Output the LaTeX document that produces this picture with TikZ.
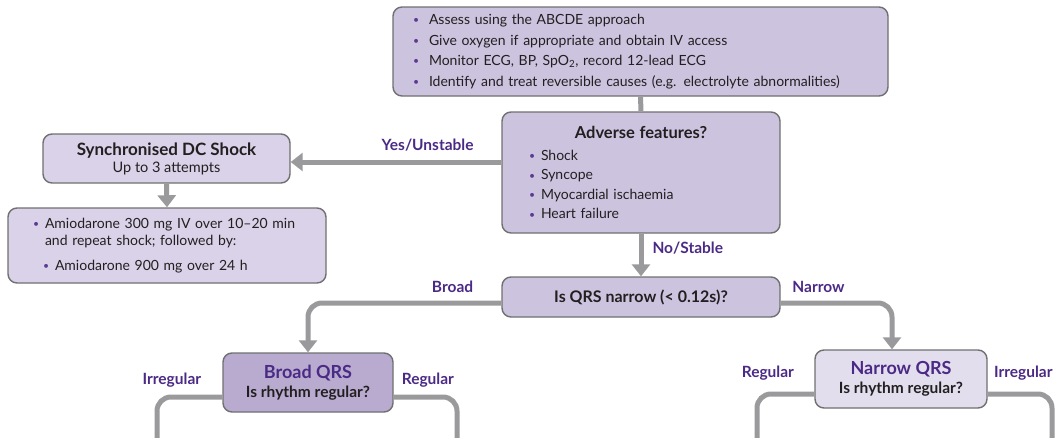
\documentclass[tikz,border=0pt]{standalone}
\usepackage{fontspec}
\setmainfont{Lato}
\usepackage{xcolor}
\usetikzlibrary{arrows.meta, positioning, calc}

\definecolor{boxfill}{HTML}{CCC3DF}
\definecolor{boxlight}{HTML}{D9D2E8}
\definecolor{boxdark}{HTML}{B8ABCF}
\definecolor{boxpale}{HTML}{E3DEEE}
\definecolor{boxedge}{HTML}{707070}
\definecolor{linkgray}{HTML}{9A9A9C}
\definecolor{labelpurple}{HTML}{4B2A85}
\definecolor{bulletpurple}{HTML}{5B3A92}
\definecolor{inktext}{HTML}{231F20}

\newcommand{\bul}[1][12pt]{\makebox[#1][l]{\textcolor{bulletpurple}{\raisebox{0.1ex}{\scalebox{0.75}{\textbullet}}}}}

\begin{document}
\begin{tikzpicture}[x=1pt, y=-1pt,
    box/.style={draw=boxedge, line width=1.4pt, rounded corners=9pt, fill=boxfill, text=inktext, inner sep=0pt},
    txt/.style={font=\fontsize{14}{20.5}\selectfont},
    link/.style={draw=linkgray, line width=5pt},
    arrowlink/.style={link, -{Triangle[length=12pt, width=18pt]}},
    branch/.style={font=\fontsize{15.5}{18}\selectfont\bfseries, text=labelpurple, inner sep=2pt, text depth=0pt}]
    % Draw fixed frame
    \useasboundingbox (0,0) rectangle (1058,437);

    % Draw initial assessment box
    \node[box, txt, minimum width=495pt, minimum height=89pt, text width=455pt, align=left] (assess) at (640.5,51.5) {%
        \bul[16pt]Assess using the ABCDE approach\\
        \bul[16pt]Give oxygen if appropriate and obtain IV access\\
        \bul[16pt]Monitor ECG, BP, SpO\textsubscript{2}, record 12-lead ECG\\
        \bul[16pt]Identify and treat reversible causes (e.g. electrolyte abnormalities)};

    % Draw adverse features box
    \node[box, font=\fontsize{14}{19.5}\selectfont, minimum width=278pt, minimum height=121pt, text width=224pt, align=left] (adverse) at (641,172.5) {%
        \makebox[224pt][c]{\fontsize{16.5}{19.5}\selectfont\bfseries Adverse features?}\\[2.5pt]
        \bul Shock\\
        \bul Syncope\\
        \bul Myocardial ischaemia\\
        \bul Heart failure};

    % Draw unstable branch boxes
    \node[box, fill=boxlight, font=\fontsize{14.5}{17}\selectfont, minimum width=247pt, minimum height=49pt, align=center] (sync) at (166.5,158.5) {%
        {\fontsize{17}{17}\selectfont\bfseries Synchronised DC Shock}\\
        Up to 3 attempts};
    \node[box, fill=boxlight, font=\fontsize{14}{17}\selectfont, minimum width=318pt, minimum height=75pt, text width=268pt, align=left] (amio) at (167,245.5) {%
        \bul Amiodarone 300 mg IV over 10--20 min\\
        \hspace*{12pt}and repeat shock; followed by:\\[8pt]
        \hspace*{10pt}\bul Amiodarone 900 mg over 24 h};

    % Draw QRS decision boxes
    \node[box, font=\fontsize{16}{18}\selectfont\bfseries, minimum width=278pt, minimum height=40pt] (qrs) at (641,297) {Is QRS narrow (< 0.12s)?};
    \node[box, fill=boxdark, font=\fontsize{15.5}{19}\selectfont\bfseries, minimum width=170pt, minimum height=59pt, align=center] (bqrs) at (308,382.5) {%
        {\fontsize{18}{19}\selectfont\color{labelpurple}Broad QRS}\\
        Is rhythm regular?};
    \node[box, fill=boxpale, font=\fontsize{15.5}{19}\selectfont\bfseries, minimum width=172pt, minimum height=58pt, align=center] (nqrs) at (901,379) {%
        {\fontsize{18}{19}\selectfont\color{labelpurple}Narrow QRS}\\
        Is rhythm regular?};

    % Connector anchor points
    \coordinate (yesin) at ($(sync.east)+(0,3.5)$);
    \coordinate (qrsl) at ($(qrs.west)+(0,6)$);
    \coordinate (qrsr) at ($(qrs.east)+(0,6)$);
    \coordinate (nqrsin) at ($(nqrs.north)+(-9,0)$);
    \coordinate (bout1) at (157,440);
    \coordinate (bout2) at (457,440);
    \coordinate (nout1) at (757,440);
    \coordinate (nout2) at (1052,440);

    % Draw connectors
    \draw[link] (assess.south) -- (adverse.north);
    \draw[arrowlink] (yesin -| adverse.west) -- node[branch, above=7pt, pos=0.35] {Yes/Unstable} (yesin);
    \draw[arrowlink] (sync.south) -- (amio.north);
    \draw[arrowlink] (adverse.south) -- node[branch, right=7pt, pos=0.34] {No/Stable} (qrs.north);
    \draw[arrowlink, rounded corners=14pt] (qrsl) -| node[branch, above=6pt, pos=0.126] {Broad} (bqrs.north);
    \draw[arrowlink, rounded corners=14pt] (qrsr) -| node[branch, above=6pt, pos=0.17] {Narrow} (nqrsin);
    \draw[link, rounded corners=14pt] ($(bqrs.west)+(0,14.5)$) -| node[branch, above=8pt, pos=0.386] {Irregular} (bout1);
    \draw[link, rounded corners=14pt] ($(bqrs.east)+(0,14.5)$) -| node[branch, above=8pt, pos=0.27] {Regular} (bout2);
    \draw[link, rounded corners=14pt] ($(nqrs.west)+(0,15)$) -| node[branch, above=12pt, pos=0.405] {Regular} (nout1);
    \draw[link, rounded corners=14pt] ($(nqrs.east)+(0,15)$) -| node[branch, above=12pt, pos=0.277] {Irregular} (nout2);
\end{tikzpicture}
\end{document}
